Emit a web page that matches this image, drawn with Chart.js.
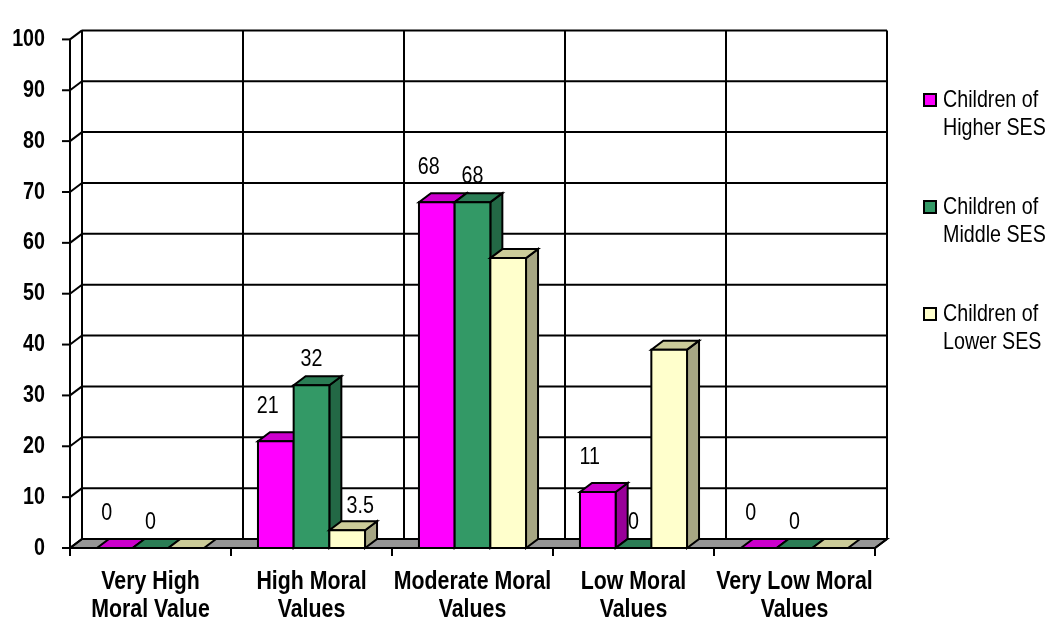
<!DOCTYPE html>
<html><head><meta charset="utf-8">
<script src="https://cdn.jsdelivr.net/npm/chart.js@4.4.0/dist/chart.umd.min.js"></script>
<style>html,body{margin:0;padding:0;background:#fff}#wrap{width:1048px;height:622px;position:relative}</style>
</head><body><div id="wrap"><canvas id="c"></canvas></div>
<script>
// ---- data ----
const categories = [['Very High','Moral Value'],['High Moral','Values'],['Moderate Moral','Values'],['Low Moral','Values'],['Very Low Moral','Values']];
const seriesNames = [['Children of','Higher SES'],['Children of','Middle SES'],['Children of','Lower SES']];
const higherSES = [0, 21, 68, 11, 0];
const middleSES = [0, 32, 68, 0, 0];
const lowerSES  = [0, 3.5, 57, 39, 0];
const higherLabels = ['0','21','68','11','0'];
const middleLabels = ['0','32','68','0','0'];
const lowerLabels  = ['','3.5','','',''];
const yTickValues = [0,10,20,30,40,50,60,70,80,90,100];

// ---- style ----
const DX = 12, DY = -9;
const NARROW = 0.82; // emulate Arial Narrow by horizontal compression
const FONT = "'Liberation Sans',Arial,sans-serif";
const faces = [
  {front:'#FF00FF', top:'#CC00CC', side:'#990099'},
  {front:'#339966', top:'#2B7D55', side:'#236845'},
  {front:'#FFFFCC', top:'#CCCC99', side:'#A6A683'}
];
const labelStyle = [{dx:-8, dy:35},{dx:0, dy:26},{dx:13, dy:24}];
const allLabels = [higherLabels, middleLabels, lowerLabels];

// narrow text helper
function narrowText(ctx, txt, x, y){
  ctx.save(); ctx.translate(x, y); ctx.scale(NARROW, 1); ctx.fillText(txt, 0, 0); ctx.restore();
}
// scales that draw their tick labels horizontally condensed
function narrowLabels(area){
  if (!this.options.ticks.display) return;
  const ctx = this.ctx;
  const items = this.getLabelItems(area);
  for (const item of items){
    const o = item.options, f = item.font;
    const lines = Array.isArray(item.label) ? item.label : [item.label];
    ctx.save();
    ctx.translate(o.translation[0], o.translation[1]);
    if (o.rotation) ctx.rotate(o.rotation);
    ctx.scale(NARROW, 1);
    ctx.font = f.string; ctx.fillStyle = o.color;
    ctx.textAlign = o.textAlign; ctx.textBaseline = o.textBaseline;
    lines.forEach((ln, j)=> ctx.fillText(ln, 0, item.textOffset + j*f.lineHeight));
    ctx.restore();
  }
}
class NarrowCategoryScale extends Chart.CategoryScale {}
NarrowCategoryScale.id = 'narrowCategory';
NarrowCategoryScale.defaults = Chart.CategoryScale.defaults;
NarrowCategoryScale.prototype.drawLabels = narrowLabels;
class NarrowLinearScale extends Chart.LinearScale {}
NarrowLinearScale.id = 'narrowLinear';
NarrowLinearScale.defaults = Chart.LinearScale.defaults;
NarrowLinearScale.prototype.drawLabels = narrowLabels;
Chart.register(NarrowCategoryScale, NarrowLinearScale);

function poly(ctx, pts, fill){
  ctx.beginPath();
  ctx.moveTo(pts[0][0], pts[0][1]);
  for (let i=1;i<pts.length;i++) ctx.lineTo(pts[i][0], pts[i][1]);
  ctx.closePath();
  if (fill){ ctx.fillStyle = fill; ctx.fill(); }
  ctx.stroke();
}
function line(ctx,x1,y1,x2,y2){ ctx.beginPath(); ctx.moveTo(x1,y1); ctx.lineTo(x2,y2); ctx.stroke(); }

const threeD = {
  id:'threeD',
  beforeDatasetsDraw(chart){
    const {ctx, chartArea:a, scales:{x,y}} = chart;
    const L=a.left, R=a.right, T=a.top, B=a.bottom;
    ctx.save();
    ctx.lineWidth = 2; ctx.strokeStyle = '#000'; ctx.lineJoin = 'miter';
    poly(ctx, [[L,B],[R,B],[R+DX,B+DY],[L+DX,B+DY]], '#969696');
    yTickValues.forEach(v=>{
      const yf = y.getPixelForValue(v), yb = yf + DY;
      line(ctx, L+DX, yb, R+DX, yb);
      line(ctx, L, yf, L+DX, yb);
      line(ctx, L-8, yf, L, yf);
    });
    line(ctx, L, T, L, B);
    const cw = x.getPixelForValue(1) - x.getPixelForValue(0);
    for (let k=0;k<=categories.length;k++){
      const xb = x.getPixelForValue(0) - cw/2 + k*cw;
      line(ctx, xb+DX, T+DY, xb+DX, B+DY);
      line(ctx, xb, B, xb, B+8);
    }
    line(ctx, R, B, R+DX, B+DY);
    ctx.restore();
  },
  afterDatasetsDraw(chart){
    const {ctx} = chart;
    ctx.save();
    ctx.lineWidth = 2; ctx.strokeStyle = '#000'; ctx.lineJoin = 'miter';
    const n = categories.length;
    for (let i=0;i<n;i++){
      chart.data.datasets.forEach((ds,d)=>{
        const el = chart.getDatasetMeta(d).data[i];
        const p = el.getProps(['x','y','base','width'], true);
        const x1 = p.x - p.width/2, x2 = p.x + p.width/2;
        const top = p.y, base = p.base, f = faces[d];
        if (ds.data[i] > 0){
          poly(ctx, [[x2,top],[x2+DX,top+DY],[x2+DX,base+DY],[x2,base]], f.side);
          poly(ctx, [[x1,top],[x2,top],[x2+DX,top+DY],[x1+DX,top+DY]], f.top);
          poly(ctx, [[x1,top],[x2,top],[x2,base],[x1,base]], f.front);
        } else {
          poly(ctx, [[x1,base],[x2,base],[x2+DX,base+DY],[x1+DX,base+DY]], f.top);
        }
      });
    }
    ctx.fillStyle = '#000';
    ctx.font = '24px ' + FONT;
    ctx.textAlign = 'center'; ctx.textBaseline = 'middle';
    chart.data.datasets.forEach((ds,d)=>{
      const meta = chart.getDatasetMeta(d);
      meta.data.forEach((el,i)=>{
        const txt = allLabels[d][i];
        if (!txt) return;
        const p = el.getProps(['x','y'], true);
        narrowText(ctx, txt, p.x + labelStyle[d].dx, p.y - labelStyle[d].dy);
      });
    });
    ctx.restore();
  },
  afterDraw(chart){
    const {ctx} = chart;
    ctx.save();
    ctx.font = '24px ' + FONT;
    ctx.textAlign = 'left'; ctx.textBaseline = 'middle';
    const baseY = [100, 207, 314];
    chart.data.datasets.forEach((ds,d)=>{
      const y0 = baseY[d];
      ctx.fillStyle = faces[d].front; ctx.strokeStyle = '#000'; ctx.lineWidth = 2;
      ctx.fillRect(924, y0-6, 12, 12); ctx.strokeRect(924, y0-6, 12, 12);
      ctx.fillStyle = '#000';
      seriesNames[d].forEach((t,j)=> narrowText(ctx, t, 943, y0 + j*28));
    });
    ctx.restore();
  }
};

new Chart(document.getElementById('c'), {
  type:'bar',
  data:{
    labels: categories,
    datasets:[
      {label: seriesNames[0].join(' '), data: higherSES, backgroundColor: faces[0].front, borderWidth:0},
      {label: seriesNames[1].join(' '), data: middleSES, backgroundColor: faces[1].front, borderWidth:0},
      {label: seriesNames[2].join(' '), data: lowerSES, backgroundColor: faces[2].front, borderWidth:0}
    ]
  },
  options:{
    responsive:true, maintainAspectRatio:false, animation:false,
    layout:{padding:{top:25, right:173, left:0, bottom:0}},
    datasets:{bar:{categoryPercentage:0.665, barPercentage:1}},
    plugins:{legend:{display:false}, tooltip:{enabled:false}},
    scales:{
      x:{
        type:'narrowCategory',
        grid:{display:false, drawTicks:false}, border:{display:false},
        ticks:{color:'#000', font:{family:FONT, size:26, weight:'bold', lineHeight:1.077}, padding:20, maxRotation:0, autoSkip:false},
        afterFit(s){ s.height = 74; }
      },
      y:{
        type:'narrowLinear',
        min:0, max:100,
        grid:{display:false, drawTicks:false}, border:{display:false},
        ticks:{color:'#000', font:{family:FONT, size:24, weight:'bold'}, padding:25},
        afterBuildTicks(s){ s.ticks = yTickValues.map(v=>({value:v})); },
        afterFit(s){ s.width = 70; }
      }
    }
  },
  plugins:[threeD]
});
</script>
</body></html>
